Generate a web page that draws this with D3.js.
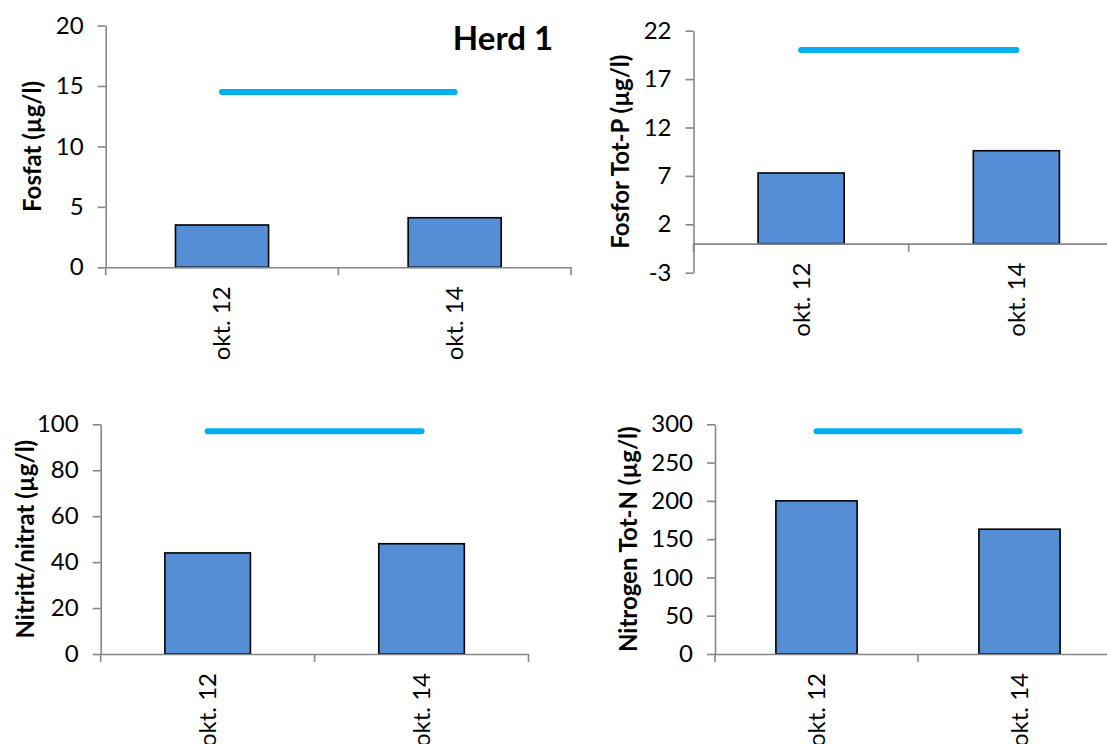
<!DOCTYPE html>
<html><head><meta charset="utf-8">
<script src="https://cdn.jsdelivr.net/npm/d3@7"></script>
<style>
html,body{margin:0;padding:0;background:#fff;}
svg{display:block;}
text{font-family:Lato,"Open Sans",sans-serif;fill:#000;}
</style></head>
<body>
<svg id="chart" width="1107" height="744"></svg>
<script>
// ---- data ----
const categories = ["okt. 12", "okt. 14"];
const fosfat = [3.5, 4.1];
const fosforTotP = [7.3, 9.6];
const nitrittNitrat = [44, 48];
const nitrogenTotN = [200, 163];
const limitValues = [14.5, 20, 97, 291];
const ticksFosfat = [0, 5, 10, 15, 20];
const ticksTotP = [-3, 2, 7, 12, 17, 22];
const ticksNitrat = [0, 20, 40, 60, 80, 100];
const ticksTotN = [0, 50, 100, 150, 200, 250, 300];
const titles = ["Fosfat (µg/l)", "Fosfor Tot-P (µg/l)", "Nitritt/nitrat (µg/l)", "Nitrogen Tot-N (µg/l)"];
const mainTitle = "Herd 1";

// ---- layout ----
const panels = [
  {values: fosfat, ticks: ticksFosfat, domain: [0, 20], x0: 105.7, x1: 571, yTop: 25.5, yBot: 267.3, titleX: 33},
  {values: fosforTotP, ticks: ticksTotP, domain: [-3, 22], x0: 693.5, x1: 1124, yTop: 30.7, yBot: 272.7, titleX: 621},
  {values: nitrittNitrat, ticks: ticksNitrat, domain: [0, 100], x0: 100.7, x1: 528.5, yTop: 424.3, yBot: 654, titleX: 26},
  {values: nitrogenTotN, ticks: ticksTotN, domain: [0, 300], x0: 715, x1: 1121, yTop: 424.3, yBot: 654, titleX: 629}
];
const axisColor = "#868686";
const svg = d3.select("#chart");

panels.forEach((p, i) => {
  const g = svg.append("g");
  const xs = d3.scaleBand().domain(categories).range([p.x0, p.x1]);
  const y = d3.scaleLinear().domain(p.domain).range([p.yBot, p.yTop]);
  const y0 = y(0);

  // bars
  g.selectAll("rect.bar").data(p.values).join("rect")
    .attr("x", (d, j) => xs(categories[j]) + xs.bandwidth() / 2 - xs.bandwidth() / 5)
    .attr("width", xs.bandwidth() * 2 / 5)
    .attr("y", d => y(Math.max(0, d)))
    .attr("height", d => Math.abs(y(d) - y0))
    .attr("fill", "#558ed5").attr("stroke", "#000").attr("stroke-width", 1.6);

  // y axis
  const ya = g.append("g").attr("transform", `translate(${p.x0},0)`)
    .call(d3.axisLeft(y).tickValues(p.ticks).tickFormat(d => String(d)).tickSize(8).tickSizeOuter(0).tickPadding(14));
  ya.select(".domain").attr("stroke", axisColor).attr("stroke-width", 1.6);
  ya.selectAll(".tick line").attr("stroke", axisColor).attr("stroke-width", 1.6);
  ya.selectAll(".tick text").attr("font-size", 24).attr("font-family", "Lato").attr("fill", "#000");

  // x axis (at zero)
  const xa = g.append("g").attr("transform", `translate(0,${y0})`)
    .call(d3.axisBottom(xs).tickSize(0).tickSizeOuter(0).tickFormat(""));
  xa.select(".domain").attr("stroke", axisColor).attr("stroke-width", 1.6);
  xa.selectAll(".tick").remove();
  const bounds = categories.map(c => xs(c)).concat([xs(categories[categories.length - 1]) + xs.bandwidth()]);
  xa.selectAll("line.bt").data(bounds).join("line")
    .attr("x1", d => d).attr("x2", d => d).attr("y1", 0).attr("y2", 8)
    .attr("stroke", axisColor).attr("stroke-width", 1.6);
  // category labels
  g.selectAll("text.cat").data(categories).join("text")
    .attr("transform", c => `translate(${xs(c) + xs.bandwidth() / 2},${y0 + 19}) rotate(-90)`)
    .attr("text-anchor", "end").attr("dy", "0.35em")
    .attr("font-size", 24).text(c => c);

  // limit line
  const cx = categories.map(c => [xs(c) + xs.bandwidth() / 2, y(limitValues[i])]);
  g.append("path").attr("d", d3.line()(cx))
    .attr("stroke", "#00b0f0").attr("stroke-width", 6).attr("stroke-linecap", "round").attr("fill", "none");

  // axis title
  g.append("text")
    .attr("transform", `translate(${p.titleX},${(p.yTop + p.yBot) / 2}) rotate(-90)`)
    .attr("text-anchor", "middle").attr("dy", "0.35em")
    .attr("font-size", 24).attr("font-weight", "bold").text(titles[i]);
});

svg.append("text").attr("x", 503).attr("y", 50).attr("text-anchor", "middle")
  .attr("font-size", 33).attr("font-weight", "bold").text(mainTitle);
</script>
</body></html>
